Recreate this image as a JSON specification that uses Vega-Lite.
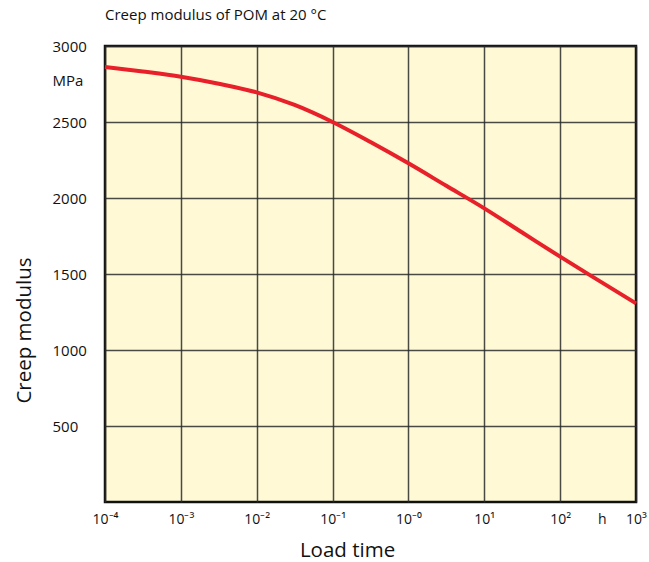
{
  "$schema": "https://vega.github.io/schema/vega-lite/v6.json",
  "autosize": "none",
  "padding": {"left": 105, "top": 46, "right": 13, "bottom": 60},
  "width": 531,
  "height": 456,
  "title": {
    "text": "Creep modulus of POM at 20 °C",
    "anchor": "start",
    "frame": "group",
    "font": "Open Sans",
    "fontSize": 15,
    "fontWeight": "normal",
    "color": "#111",
    "offset": 16
  },
  "config": {
    "view": {"fill": "#FFFAD5", "stroke": "#111", "strokeWidth": 2.5},
    "font": "Open Sans"
  },
  "data": {
    "values": [
      {"t": 0.0001, "E": 2862},
      {"t": 0.000316, "E": 2832},
      {"t": 0.001, "E": 2798},
      {"t": 0.00316, "E": 2752},
      {"t": 0.01, "E": 2695},
      {"t": 0.0316, "E": 2612},
      {"t": 0.1, "E": 2500},
      {"t": 0.316, "E": 2368},
      {"t": 1, "E": 2228},
      {"t": 3.16, "E": 2080},
      {"t": 10, "E": 1932},
      {"t": 31.6, "E": 1773},
      {"t": 100, "E": 1614},
      {"t": 316, "E": 1460},
      {"t": 1000, "E": 1307}
    ]
  },
  "mark": {"type": "line", "color": "#E8202A", "strokeWidth": 4, "interpolate": "monotone"},
  "encoding": {
    "x": {
      "field": "t",
      "type": "quantitative",
      "scale": {"type": "log", "domain": [0.0001, 1000], "nice": false},
      "axis": {
        "title": "Load time",
        "titleFont": "Open Sans",
        "titleFontSize": 20.5,
        "titleFontWeight": "normal",
        "titleColor": "#111",
        "titleX": 242,
        "titleY": 48,
        "titleBaseline": "middle",
        "values": [0.0001, 0.001, 0.01, 0.1, 1, 10, 100, 1000, 355],
        "labelExpr": "datum.value == 355 ? 'h' : '10' + ['⁻⁴','⁻³','⁻²','⁻¹','⁻⁰','¹','²','³'][round(log(datum.value) / LN10) + 4]",
        "labelFont": "Open Sans",
        "labelFontSize": 14,
        "labelColor": "#111",
        "labelFlush": false,
        "labelOverlap": false,
        "labelPadding": 10,
        "ticks": false,
        "tickSize": 0,
        "domain": false,
        "grid": true,
        "gridColor": "#2a2a2a",
        "gridWidth": 1.5,
        "gridOpacity": {"condition": {"test": "datum.value == 355", "value": 0}, "value": 0.85}
      }
    },
    "y": {
      "field": "E",
      "type": "quantitative",
      "scale": {"domain": [0, 3000], "nice": false, "zero": true},
      "axis": {
        "title": "Creep modulus",
        "titleFont": "Open Sans",
        "titleFontSize": 20.5,
        "titleFontWeight": "normal",
        "titleColor": "#111",
        "titleX": -81,
        "titleY": 284,
        "titleAngle": -90,
        "titleAlign": "center",
        "titleBaseline": "middle",
        "values": [500, 1000, 1500, 2000, 2500, 3000, 2770],
        "format": "d",
        "labelExpr": "datum.value == 2770 ? 'MPa' : datum.label",
        "labelFont": "Open Sans",
        "labelFontSize": 15,
        "labelColor": "#111",
        "labelAlign": "left",
        "labelBaseline": "middle",
        "labelPadding": 53,
        "labelOverlap": false,
        "labelFlush": false,
        "ticks": false,
        "tickSize": 0,
        "domain": false,
        "grid": true,
        "gridColor": "#2a2a2a",
        "gridWidth": 1.5,
        "gridOpacity": {"condition": {"test": "datum.value == 2770", "value": 0}, "value": 0.85}
      }
    }
  }
}
